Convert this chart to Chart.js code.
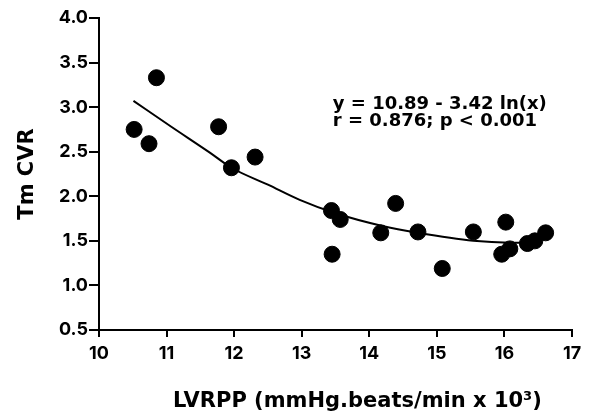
<!DOCTYPE html>
<html>
<head>
<meta charset="utf-8">
<script src="https://cdn.jsdelivr.net/npm/chart.js@4/dist/chart.umd.min.js"></script>
<style>
  html, body { margin: 0; padding: 0; background: #fff; }
  canvas { display: block; }
</style>
</head>
<body>
<canvas id="c" width="589" height="414"></canvas>
<script>
// Observed points (LVRPP x 10^3, Tm CVR)
const lvrpp = [10.52, 10.74, 10.85, 11.77, 11.96, 12.31, 13.44, 13.57, 13.45, 14.17,
               14.39, 14.72, 15.08, 15.54, 15.96, 16.02, 16.08, 16.34, 16.45, 16.61];
const tmCvr = [2.75, 2.59, 3.33, 2.78, 2.32, 2.44, 1.84, 1.74, 1.35, 1.59,
               1.92, 1.60, 1.19, 1.60, 1.35, 1.71, 1.41, 1.47, 1.50, 1.59];
// Fitted curve
const fitX = [10.51, 11.07, 11.64, 11.96, 12.5, 12.97, 13.5, 14.18, 14.72, 15.54, 16.08, 16.3];
const fitY = [3.07, 2.78, 2.49, 2.32, 2.13, 1.96, 1.81, 1.67, 1.59, 1.50, 1.48, 1.48];
// Tick labels
const xTickLabels = ['10', '11', '12', '13', '14', '15', '16', '17'];
const yTickLabels = ['0.5', '1.0', '1.5', '2.0', '2.5', '3.0', '3.5', '4.0'];
// Titles and annotation
const xTitle = 'LVRPP (mmHg.beats/min x 10³)';
const yTitle = 'Tm CVR';
const annotationLines = ['y = 10.89 - 3.42 ln(x)', 'r = 0.876; p < 0.001'];
const annotationX = 13.46;
const annotationY = [3.03, 2.84];

const TICK_FONT = 'Inter, "Liberation Sans", Arial, sans-serif';
const WIDE_FONT = '"DejaVu Sans", "Liberation Sans", Arial, sans-serif';

const points = lvrpp.map((x, i) => ({ x: x, y: tmCvr[i] }));
const fit = fitX.map((x, i) => ({ x: x, y: fitY[i] }));

const textPlugin = {
  id: 'texts',
  afterDraw(chart) {
    const ctx = chart.ctx;
    const xs = chart.scales.x, ys = chart.scales.y;
    ctx.save();
    ctx.fillStyle = '#000';
    ctx.textAlign = 'left';
    ctx.textBaseline = 'middle';
    ctx.font = 'bold 18px ' + WIDE_FONT;
    annotationLines.forEach((t, i) => {
      ctx.fillText(t, xs.getPixelForValue(annotationX), ys.getPixelForValue(annotationY[i]));
    });
    // x-axis title, centred a little right of the axis middle as in the original
    ctx.font = 'bold 21px ' + WIDE_FONT;
    ctx.textAlign = 'center';
    ctx.textBaseline = 'middle';
    ctx.fillText(xTitle, (xs.left + xs.right) / 2 + 22, xs.bottom - 12);
    ctx.restore();
  }
};

new Chart(document.getElementById('c'), {
  type: 'scatter',
  data: {
    datasets: [
      {
        type: 'line',
        data: fit,
        borderColor: '#000',
        borderWidth: 2,
        pointRadius: 0,
        fill: false,
        cubicInterpolationMode: 'monotone'
      },
      {
        data: points,
        backgroundColor: '#000',
        borderColor: '#000',
        pointRadius: 8,
        pointHoverRadius: 8
      }
    ]
  },
  options: {
    responsive: false,
    devicePixelRatio: 1,
    animation: false,
    layout: { padding: { left: 0, right: 17, top: 18, bottom: 0 } },
    plugins: { legend: { display: false }, tooltip: { enabled: false } },
    scales: {
      x: {
        type: 'linear',
        min: 10, max: 17,
        afterFit: s => { s.height = 84; },
        ticks: {
          stepSize: 1,
          color: '#000',
          padding: 6,
          font: { family: TICK_FONT, size: 18, weight: 'bold' },
          callback: (v, i) => xTickLabels[i]
        },
        grid: { drawOnChartArea: false, drawTicks: true, tickLength: 7, color: '#000', lineWidth: 2 },
        border: { display: true, color: '#000', width: 2 },
        title: { display: false }
      },
      y: {
        type: 'linear',
        min: 0.5, max: 4,
        afterFit: s => { s.width = 99; },
        ticks: {
          stepSize: 0.5,
          color: '#000',
          padding: 1,
          font: { family: TICK_FONT, size: 18, weight: 'bold' },
          callback: (v, i) => yTickLabels[i]
        },
        grid: { drawOnChartArea: false, drawTicks: true, tickLength: 10, color: '#000', lineWidth: 2 },
        border: { display: true, color: '#000', width: 2 },
        title: {
          display: true,
          text: yTitle,
          color: '#000',
          font: { family: WIDE_FONT, size: 21, weight: 'bold' },
          padding: { top: 15, bottom: 0 }
        }
      }
    }
  },
  plugins: [textPlugin]
});
</script>
</body>
</html>
